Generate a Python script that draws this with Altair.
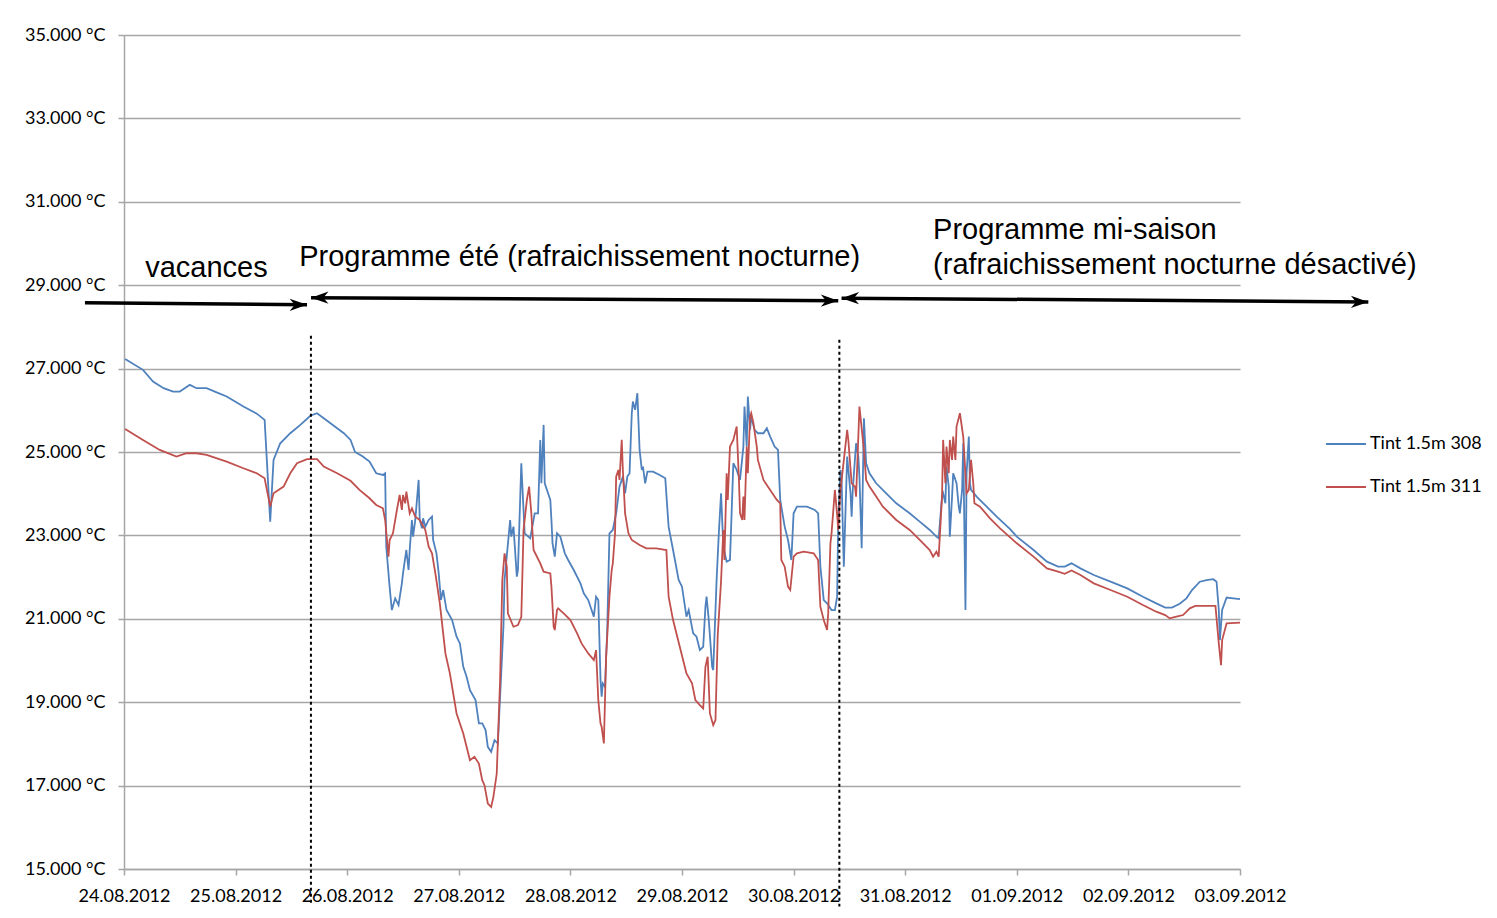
import json
import altair as alt
import pandas as pd

# ---------------- data ----------------
SERIES = ["Tint 1.5m 308", "Tint 1.5m 311"]
COLORS = ["#4F81BD", "#C0504D"]
DATE_LABELS = ["24.08.2012", "25.08.2012", "26.08.2012", "27.08.2012", "28.08.2012",
               "29.08.2012", "30.08.2012", "31.08.2012", "01.09.2012", "02.09.2012",
               "03.09.2012"]
DAY_TICKS = list(range(0, 11))
Y_TICKS = list(range(15, 36, 2))

# days since 24.08.2012 00:00, temperature in °C
t308_day = [0.01, 0.17, 0.26, 0.355, 0.44, 0.50, 0.59, 0.65, 0.74, 0.83, 0.92, 1.07, 1.19, 1.26,
            1.27, 1.31, 1.34, 1.40, 1.49, 1.58, 1.67, 1.73, 1.79, 1.97, 2.03, 2.07, 2.14, 2.20,
            2.26, 2.32, 2.34, 2.35, 2.38, 2.40, 2.43, 2.46, 2.49, 2.50, 2.53, 2.55, 2.56, 2.58,
            2.59, 2.61, 2.64, 2.65, 2.67, 2.68, 2.70, 2.73, 2.76, 2.77, 2.80, 2.82, 2.84, 2.86,
            2.89, 2.94, 2.98, 3.01, 3.04, 3.07, 3.10, 3.15, 3.18, 3.21, 3.24, 3.26, 3.29, 3.32,
            3.35, 3.40, 3.41, 3.46, 3.47, 3.49, 3.52, 3.53, 3.56, 3.59, 3.64, 3.68, 3.71, 3.73,
            3.74, 3.76, 3.77, 3.79, 3.82, 3.83, 3.84, 3.86, 3.88, 3.91, 3.95, 3.98, 4.03, 4.09,
            4.12, 4.16, 4.19, 4.21, 4.23, 4.25, 4.27, 4.28, 4.29, 4.31, 4.33, 4.35, 4.38, 4.41,
            4.44, 4.47, 4.49, 4.51, 4.53, 4.55, 4.56, 4.58, 4.60, 4.62, 4.64, 4.65, 4.67, 4.69,
            4.74, 4.80, 4.85, 4.88, 4.92, 4.97, 5.00, 5.04, 5.06, 5.10, 5.13, 5.16, 5.19, 5.21,
            5.22, 5.24, 5.27, 5.28, 5.31, 5.33, 5.35, 5.37, 5.40, 5.43, 5.46, 5.49, 5.52, 5.55,
            5.56, 5.58, 5.59, 5.61, 5.62, 5.65, 5.68, 5.73, 5.76, 5.79, 5.83, 5.86, 5.88, 5.92,
            5.95, 5.98, 6.00, 6.03, 6.12, 6.19, 6.22, 6.24, 6.27, 6.30, 6.34, 6.37, 6.39, 6.40,
            6.42, 6.43, 6.45, 6.48, 6.51, 6.52, 6.53, 6.56, 6.58, 6.59, 6.61, 6.63, 6.65, 6.68,
            6.74, 6.83, 6.92, 7.04, 7.13, 7.22, 7.28, 7.30, 7.33, 7.34, 7.36, 7.37, 7.39, 7.40,
            7.42, 7.43, 7.46, 7.48, 7.49, 7.51, 7.52, 7.54, 7.55, 7.57, 7.58, 7.59, 7.64, 7.73,
            7.82, 7.94, 8.00, 8.15, 8.27, 8.37, 8.43, 8.49, 8.57, 8.69, 8.84, 8.99, 9.13, 9.25,
            9.33, 9.39, 9.46, 9.52, 9.57, 9.64, 9.70, 9.76, 9.79, 9.81, 9.82, 9.84, 9.88, 9.94,
            10.0]
t308_temp = [27.23, 26.97, 26.69, 26.53, 26.45, 26.45, 26.61, 26.53, 26.53, 26.43, 26.33, 26.09,
             25.92, 25.77, 25.29, 23.33, 24.81, 25.21, 25.45, 25.65, 25.87, 25.93, 25.81, 25.45,
             25.29, 25.00, 24.89, 24.77, 24.49, 24.45, 24.49, 22.73, 21.77, 21.21, 21.49, 21.33,
             21.85, 22.09, 22.65, 22.17, 22.65, 23.37, 22.97, 23.37, 24.33, 23.37, 23.17, 23.41,
             23.21, 23.37, 23.45, 22.89, 22.57, 22.09, 21.45, 21.69, 21.21, 20.97, 20.57, 20.41,
             19.85, 19.61, 19.29, 19.05, 18.49, 18.49, 18.33, 17.93, 17.81, 18.09, 18.01, 20.81,
             21.93, 23.37, 22.97, 23.21, 22.01, 22.17, 24.73, 23.05, 22.93, 23.53, 23.53, 25.29,
             24.25, 25.65, 24.25, 24.09, 23.85, 23.37, 22.81, 22.49, 23.05, 22.97, 22.57, 22.41,
             22.17, 21.85, 21.61, 21.45, 21.21, 21.05, 21.53, 21.45, 19.53, 19.13, 19.45, 19.37,
             20.73, 23.05, 23.13, 23.53, 24.17, 24.41, 24.01, 24.41, 24.49, 25.93, 26.21, 26.01,
             26.41, 25.05, 24.57, 24.65, 24.25, 24.53, 24.53, 24.45, 24.37, 23.21, 22.65, 21.93,
             21.77, 21.05, 21.21, 20.65, 20.57, 20.25, 20.33, 21.29, 21.53, 20.97, 19.85, 19.77,
             21.93, 23.05, 24.01, 22.73, 22.37, 22.41, 24.73, 24.57, 24.33, 25.13, 26.09, 25.13,
             26.33, 25.53, 25.85, 25.53, 25.45, 25.45, 25.57, 25.37, 25.13, 25.05, 23.85, 23.21,
             22.89, 22.41, 23.53, 23.69, 23.69, 23.61, 23.53, 22.25, 21.45, 21.37, 21.21, 21.21,
             21.53, 23.37, 24.57, 24.33, 22.25, 24.89, 24.01, 23.45, 24.09, 25.21, 24.89, 24.41,
             22.69, 25.81, 24.73, 24.49, 24.25, 24.01, 23.77, 23.53, 23.33, 23.13, 22.97, 22.93,
             23.93, 24.01, 23.77, 24.65, 24.17, 22.97, 23.93, 24.49, 24.25, 23.69, 23.53, 24.09,
             25.21, 21.21, 24.49, 25.37, 24.25, 24.09, 23.93, 23.69, 23.45, 23.15, 22.97, 22.65,
             22.37, 22.25, 22.25, 22.33, 22.21, 22.05, 21.89, 21.73, 21.53, 21.37, 21.27, 21.27,
             21.36, 21.49, 21.69, 21.89, 21.93, 21.95, 21.89, 21.21, 20.49, 21.21, 21.51, 21.49,
             21.47]

t311_day = [0.01, 0.17, 0.32, 0.47, 0.56, 0.65, 0.74, 0.92, 1.07, 1.19, 1.26, 1.31, 1.34, 1.43,
            1.49, 1.55, 1.64, 1.73, 1.79, 1.91, 2.03, 2.11, 2.20, 2.26, 2.32, 2.34, 2.37, 2.38,
            2.41, 2.44, 2.47, 2.49, 2.50, 2.52, 2.53, 2.56, 2.58, 2.61, 2.65, 2.70, 2.73, 2.76,
            2.79, 2.83, 2.88, 2.92, 2.98, 3.04, 3.10, 3.14, 3.18, 3.21, 3.23, 3.26, 3.29, 3.31,
            3.34, 3.37, 3.39, 3.41, 3.43, 3.44, 3.49, 3.53, 3.56, 3.58, 3.61, 3.63, 3.65, 3.67,
            3.73, 3.76, 3.82, 3.83, 3.85, 3.86, 3.88, 3.89, 3.94, 4.00, 4.06, 4.10, 4.16, 4.21,
            4.23, 4.25, 4.27, 4.28, 4.30, 4.32, 4.35, 4.37, 4.38, 4.40, 4.41, 4.43, 4.44, 4.46,
            4.47, 4.49, 4.52, 4.55, 4.62, 4.68, 4.77, 4.86, 4.88, 4.92, 4.98, 5.04, 5.09, 5.12,
            5.16, 5.19, 5.21, 5.23, 5.25, 5.28, 5.30, 5.32, 5.35, 5.37, 5.38, 5.40, 5.41, 5.43,
            5.46, 5.49, 5.51, 5.52, 5.54, 5.55, 5.56, 5.58, 5.59, 5.61, 5.62, 5.64, 5.67, 5.68,
            5.73, 5.79, 5.85, 5.88, 5.89, 5.92, 5.95, 5.97, 6.00, 6.03, 6.09, 6.18, 6.22, 6.24,
            6.27, 6.30, 6.31, 6.33, 6.34, 6.37, 6.39, 6.40, 6.42, 6.45, 6.48, 6.49, 6.52, 6.55,
            6.56, 6.59, 6.63, 6.65, 6.68, 6.74, 6.80, 6.92, 7.04, 7.13, 7.22, 7.25, 7.28, 7.30,
            7.33, 7.34, 7.36, 7.37, 7.39, 7.40, 7.42, 7.43, 7.45, 7.46, 7.49, 7.52, 7.55, 7.57,
            7.59, 7.61, 7.62, 7.67, 7.76, 7.85, 8.00, 8.15, 8.27, 8.37, 8.43, 8.49, 8.57, 8.69,
            8.84, 8.99, 9.13, 9.25, 9.33, 9.37, 9.43, 9.49, 9.55, 9.60, 9.78, 9.81, 9.83, 9.84,
            9.88, 10.0]
t311_temp = [25.55, 25.29, 25.05, 24.89, 24.97, 24.97, 24.93, 24.77, 24.61, 24.49, 24.37, 23.69,
             24.01, 24.17, 24.49, 24.73, 24.83, 24.83, 24.65, 24.49, 24.31, 24.09, 23.89, 23.73,
             23.65, 23.37, 22.49, 22.89, 23.05, 23.53, 23.97, 23.61, 23.97, 23.77, 24.05, 23.53,
             23.65, 23.45, 23.37, 23.13, 22.73, 22.57, 22.09, 21.37, 20.17, 19.69, 18.73, 18.25,
             17.61, 17.69, 17.53, 17.13, 17.01, 16.57, 16.49, 16.73, 17.29, 19.53, 21.93, 22.57,
             22.25, 21.13, 20.81, 20.85, 21.05, 23.13, 23.85, 24.17, 23.53, 22.65, 22.33, 22.13,
             22.09, 21.77, 20.81, 20.73, 21.21, 21.25, 21.13, 20.97, 20.65, 20.41, 20.17, 20.01,
             20.25, 19.05, 18.49, 18.41, 18.01, 20.09, 21.53, 22.17, 22.33, 23.05, 24.41, 24.57,
             24.33, 25.29, 24.57, 23.53, 23.05, 22.89, 22.77, 22.69, 22.69, 22.65, 21.53, 20.97,
             20.33, 19.69, 19.45, 19.05, 18.93, 18.85, 19.85, 20.09, 18.73, 18.45, 18.57, 20.60,
             21.90, 23.13, 22.41, 24.49, 23.85, 25.13, 25.29, 25.61, 24.33, 23.53, 23.37, 23.93,
             23.37, 25.13, 24.49, 25.85, 25.93, 25.69, 25.13, 24.81, 24.33, 24.09, 23.85, 23.77,
             22.41, 22.25, 21.77, 21.69, 22.49, 22.57, 22.61, 22.57, 22.41, 21.29, 20.97, 20.73,
             21.13, 22.81, 23.05, 24.09, 23.50, 23.13, 24.09, 24.80, 25.53, 25.30, 24.25, 24.17,
             23.93, 26.09, 25.05, 24.33, 24.17, 23.93, 23.69, 23.37, 23.13, 22.89, 22.65, 22.49,
             22.61, 22.49, 23.93, 25.29, 24.25, 25.13, 24.49, 25.29, 24.81, 25.37, 24.81, 25.61,
             25.93, 25.37, 24.01, 24.09, 24.81, 24.25, 23.77, 23.69, 23.41, 23.17, 22.81, 22.49,
             22.21, 22.13, 22.08, 22.16, 22.05, 21.85, 21.69, 21.53, 21.33, 21.17, 21.09, 21.01,
             21.05, 21.09, 21.25, 21.31, 21.31, 20.41, 19.89, 20.49, 20.89, 20.91]

# annotations (in data units: day, °C)
ann_text = ["vacances", "Programme été (rafraichissement nocturne)",
            "Programme mi-saison", "(rafraichissement nocturne désactivé)"]
ann_day = [0.19, 1.57, 7.25, 7.25]
ann_temp = [29.42, 29.68, 30.33, 29.49]

arrow_day1 = [-0.35, 1.676, 6.43]
arrow_day2 = [1.64, 6.40, 11.15]
arrow_temp1 = [28.58, 28.70, 28.69]
arrow_temp2 = [28.53, 28.63, 28.60]
arrow_two_sided = [False, True, True]

period_day = [1.675, 6.41]
period_top = [27.79, 27.69]
period_bottom = [14.14, 14.10]

# ---------------- tables ----------------
lines = pd.concat([
    pd.DataFrame({"day": t308_day, "temp": t308_temp, "series": SERIES[0]}),
    pd.DataFrame({"day": t311_day, "temp": t311_temp, "series": SERIES[1]}),
], ignore_index=True)
lines["i"] = range(len(lines))

arrows = pd.DataFrame({"d1": arrow_day1, "d2": arrow_day2, "t1": arrow_temp1, "t2": arrow_temp2})
heads_rows = []
for a, b, ta, tb, two in zip(arrow_day1, arrow_day2, arrow_temp1, arrow_temp2, arrow_two_sided):
    heads_rows.append({"day": b, "temp": tb, "dir": "right"})
    if two:
        heads_rows.append({"day": a, "temp": ta, "dir": "left"})
heads = pd.DataFrame(heads_rows)
periods = pd.DataFrame({"day": period_day, "top": period_top, "bottom": period_bottom})
notes = pd.DataFrame({"day": ann_day, "temp": ann_temp, "text": ann_text})

xscale = alt.Scale(domain=[0, 10], nice=False, zero=False)
yscale = alt.Scale(domain=[15, 35], nice=False, zero=False)
GRID = "#a6a6a6"

x_axis = alt.Axis(values=DAY_TICKS, labelExpr=json.dumps(DATE_LABELS) + "[datum.value]",
                  title=None, grid=False, tickSize=6, tickColor=GRID, domainColor=GRID,
                  domainWidth=1.5, tickWidth=1.5, labelFontSize=18, labelFont="Lato",
                  labelColor="#000", labelPadding=12, labelFlush=False, labelOverlap=False)
y_axis = alt.Axis(values=Y_TICKS, labelExpr="format(datum.value, '.3f') + ' °C'",
                  title=None, grid=True, gridColor=GRID, gridWidth=1.5, tickSize=6,
                  tickColor=GRID, tickWidth=1.5, domainColor=GRID, domainWidth=1.5,
                  labelFontSize=18, labelFont="Lato", labelColor="#000", labelPadding=13)

line_layer = alt.Chart(lines).mark_line(strokeWidth=1.8).encode(
    x=alt.X("day:Q", scale=xscale, axis=x_axis),
    y=alt.Y("temp:Q", scale=yscale, axis=y_axis),
    color=alt.Color("series:N", scale=alt.Scale(domain=SERIES, range=COLORS),
                    legend=alt.Legend(title=None, orient="none", legendX=1201, legendY=388,
                                      symbolType="stroke", symbolSize=1600,
                                      symbolStrokeWidth=2, labelFontSize=18, labelFont="Lato",
                                      labelColor="#000", rowPadding=13, labelOffset=3)),
    order="i:Q",
)

arrow_layer = alt.Chart(arrows).mark_rule(color="black", strokeWidth=3.5).encode(
    x="d1:Q", x2="d2:Q", y="t1:Q", y2="t2:Q")

head_layer = alt.Chart(heads).mark_point(filled=True, opacity=1, color="black",
                                         size=420, strokeWidth=0).encode(
    x="day:Q", y="temp:Q",
    shape=alt.Shape("dir:N", legend=None,
                    scale=alt.Scale(domain=["right", "left"],
                                    range=["M 0 0 L -1.7 -0.6 L -1.2 0 L -1.7 0.6 Z",
                                           "M 0 0 L 1.7 -0.6 L 1.2 0 L 1.7 0.6 Z"])))

period_layer = alt.Chart(periods).mark_rule(color="black", strokeWidth=2,
                                            strokeDash=[3, 3]).encode(
    x="day:Q", y="top:Q", y2="bottom:Q")

note_layer = alt.Chart(notes).mark_text(align="left", baseline="middle", fontSize=29,
                                        font="Liberation Sans", color="black").encode(
    x="day:Q", y="temp:Q", text="text:N")

chart = alt.layer(line_layer, period_layer, arrow_layer, head_layer, note_layer).properties(
    width=1116, height=834,
    padding={"left": 116, "top": 27, "right": 248, "bottom": 40},
    autosize=alt.AutoSizeParams(type="none"),
    background="white",
).configure_view(stroke=None)

chart.save("out.html", embed_options={"renderer": "svg", "actions": False})
